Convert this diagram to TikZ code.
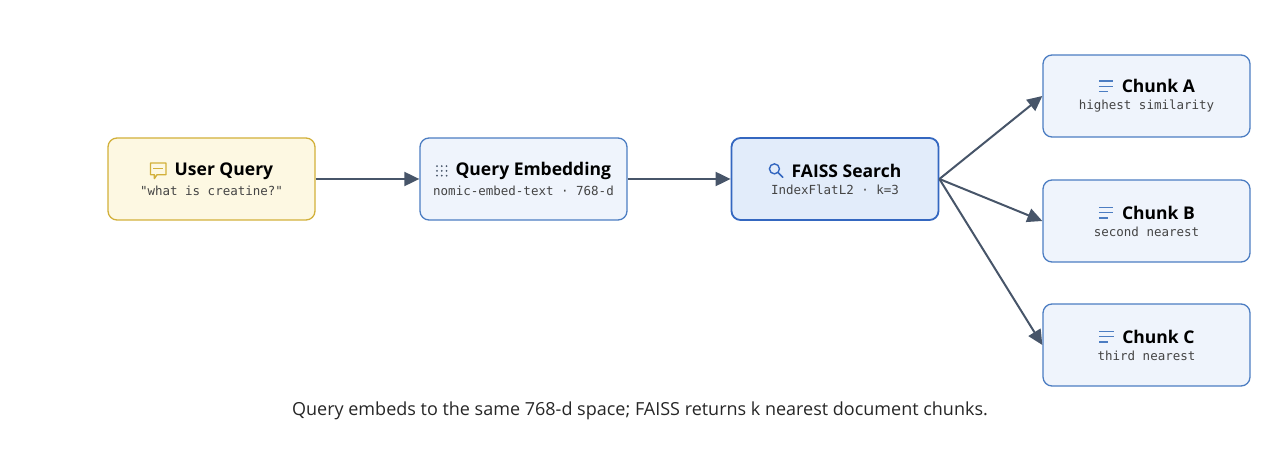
\documentclass[tikz,border=0pt]{standalone}
\usepackage{fontspec}
\setmainfont{Open Sans}
\setmonofont{DejaVu Sans Mono}
\usetikzlibrary{arrows.meta}
\definecolor{ylfill}{HTML}{FDF8E2}
\definecolor{yldraw}{HTML}{D2B03A}
\definecolor{blfill}{HTML}{EFF4FC}
\definecolor{bldraw}{HTML}{4C7DC2}
\definecolor{bsfill}{HTML}{E2ECFA}
\definecolor{bsdraw}{HTML}{3467C0}
\definecolor{arr}{HTML}{475569}
\definecolor{subt}{HTML}{444444}
\newcommand{\icchat}{\tikz[baseline=-1pt,x=1.3pt,y=1.3pt,sharp corners]{\draw[yldraw,line width=1.3pt,line join=round] (0,0)--(-2,-3)--(-2,0)--(-5,0)--(-5,9)--(7,9)--(7,0)--cycle; \draw[yldraw,line width=0.9pt] (-3,4.5)--(5,4.5);}}
\newcommand{\icdots}{\tikz[baseline=0pt,x=1.2pt,y=1.2pt]{\foreach \i in {0,1,2} \foreach \j in {0,1,2} \fill[arr] (\i*4,\j*4) circle (1pt);}}
\newcommand{\icsearch}{\tikz[baseline=-1pt,x=1.3pt,y=1.3pt]{\draw[bsdraw,line width=1.4pt] (0,6) circle (5pt); \draw[bsdraw,line width=1.6pt,line cap=round] (2.9,3.1)--(6.5,-0.5);}}
\newcommand{\iclines}{\tikz[baseline=0pt,x=1.3pt,y=1.3pt,sharp corners]{\draw[bldraw,line width=1.5pt] (0,9)--(11,9) (0,5)--(11,5) (0,1)--(7,1);}}
\tikzset{
  box/.style={rectangle, rounded corners=9pt, line width=1.3pt, minimum width=207pt, minimum height=82pt, align=center, inner sep=0pt},
  qbox/.style={box, draw=yldraw, fill=ylfill},
  ebox/.style={box, draw=bldraw, fill=blfill},
  sbox/.style={box, draw=bsdraw, fill=bsfill, line width=1.8pt},
  link/.style={draw=arr, line width=2pt, -{Triangle[length=15pt,width=14pt]}},
}
\newcommand{\ttl}[2]{#1\hspace{8pt}{\fontsize{17.5}{20}\selectfont\bfseries #2}}
\newcommand{\sub}[1]{{\fontsize{12.5}{15}\selectfont\ttfamily\color{subt}#1}}
\begin{document}
\begin{tikzpicture}[x=1pt,y=-1pt]
\useasboundingbox (0,0) rectangle (1280,462);

\node[qbox] (query) at (211.5,179) {\ttl{\icchat}{User Query}\\[5pt]\sub{"what is creatine?"}};
\node[ebox] (embed) at (523.5,179) {\ttl{\icdots}{Query Embedding}\\[5pt]\sub{nomic-embed-text · 768-d}};
\node[sbox] (search) at (835,179) {\ttl{\icsearch}{FAISS Search}\\[5pt]\sub{IndexFlatL2 · k=3}};
\node[ebox] (chunkA) at (1146.5,96) {\ttl{\iclines}{Chunk A}\\[5pt]\sub{highest similarity}};
\node[ebox] (chunkB) at (1146.5,221) {\ttl{\iclines}{Chunk B}\\[5pt]\sub{second nearest}};
\node[ebox] (chunkC) at (1146.5,345) {\ttl{\iclines}{Chunk C}\\[5pt]\sub{third nearest}};

\draw[link] (query) -- (embed);
\draw[link] (embed) -- (search);
\draw[link] (search.east) -- (chunkA.west);
\draw[link] (search.east) -- (chunkB.west);
\draw[link] (search.east) -- (chunkC.west);

\node[font=\fontsize{18}{20}\selectfont, text=black!85] (caption) at (640,411) {Query embeds to the same 768-d space; FAISS returns k nearest document chunks.};
\end{tikzpicture}
\end{document}
